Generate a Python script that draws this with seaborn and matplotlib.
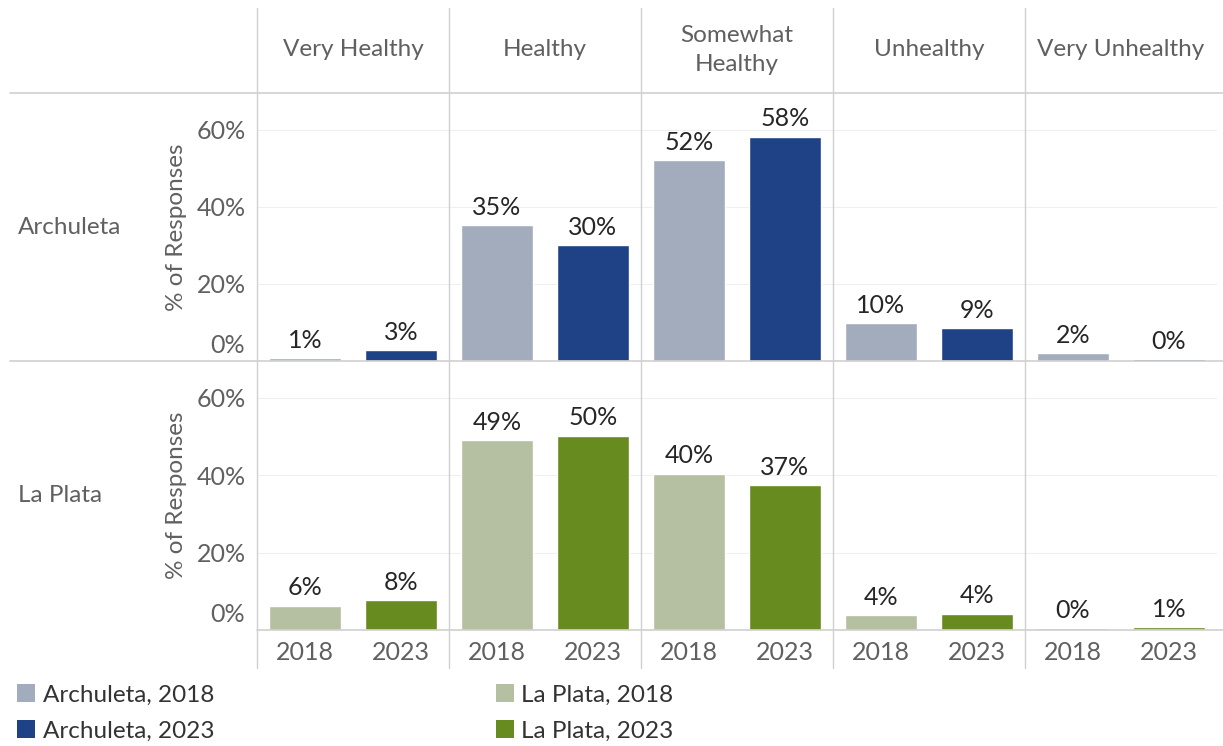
import pandas as pd
import matplotlib.pyplot as plt
import seaborn as sns
from matplotlib.lines import Line2D
from matplotlib.patches import Patch
from matplotlib.transforms import blended_transform_factory

# data
categories = ['Very Healthy', 'Healthy', 'Somewhat\nHealthy', 'Unhealthy', 'Very Unhealthy']
counties = ['Archuleta', 'La Plata']
years = ['2018', '2023']
archuleta_2018 = [0.7, 35.2, 52.1, 9.8, 2.0]
archuleta_2023 = [2.9, 30.0, 58.2, 8.6, 0.4]
laplata_2018 = [6.3, 49.0, 40.4, 3.9, 0.4]
laplata_2023 = [7.8, 50.2, 37.4, 4.2, 0.8]
y_ticks = [0, 20, 40, 60]

colors = {
    ('Archuleta', '2018'): '#a3acbc',
    ('Archuleta', '2023'): '#1f4287',
    ('La Plata', '2018'): '#b5bfa1',
    ('La Plata', '2023'): '#678b1f',
}

rows = []
for cat, a18, a23, l18, l23 in zip(categories, archuleta_2018, archuleta_2023, laplata_2018, laplata_2023):
    rows.append(('Archuleta', cat, '2018', a18))
    rows.append(('Archuleta', cat, '2023', a23))
    rows.append(('La Plata', cat, '2018', l18))
    rows.append(('La Plata', cat, '2023', l23))
df = pd.DataFrame(rows, columns=['county', 'category', 'year', 'pct'])

sns.set_style('white')
plt.rcParams['font.family'] = ['Lato', 'DejaVu Sans']

W, H = 1223, 746
fig = plt.figure(figsize=(W / 100, H / 100), dpi=100)

grey_txt = '#606060'
line_c = '#d0d0d0'
fs = 17.5
fs_num = 18

panel_left = 257
panel_w = 192
row_tops = [93, 361]
row_bottoms = [361, 630]


def fx(px):
    return px / W


def fy(py):
    return 1 - py / H


for r, county in enumerate(counties):
    for c, cat in enumerate(categories):
        left = panel_left + c * panel_w
        ax = fig.add_axes([fx(left), fy(row_bottoms[r]), panel_w / W,
                           (row_bottoms[r] - row_tops[r]) / H])
        sub = df[(df.county == county) & (df.category == cat)]
        pal = {y: colors[(county, y)] for y in years}
        sns.barplot(data=sub, x='year', y='pct', hue='year', order=years,
                    hue_order=years, palette=pal, width=0.76, ax=ax,
                    legend=False, saturation=1, errorbar=None)
        for cont in ax.containers:
            vals = [f'{v:.0f}%' for v in cont.datavalues]
            ax.bar_label(cont, labels=vals, padding=4.5, fontsize=fs_num, color='#262626')
        ax.set_ylim(0, 69.5)
        ax.set_xlim(-0.5, 1.5)
        ax.set_yticks(y_ticks)
        ax.yaxis.grid(True, color='#efefef', linewidth=0.8)
        ax.set_axisbelow(True)
        ax.set_xlabel('')
        ax.set_ylabel('')
        for s in ['top', 'right', 'left', 'bottom']:
            ax.spines[s].set_visible(False)
        ax.tick_params(length=0)
        if c == 0:
            ax.set_yticklabels(['', '20%', '40%', '60%'], fontsize=fs_num, color=grey_txt)
            ax.tick_params(axis='y', pad=8)
            tr = blended_transform_factory(ax.transAxes, ax.transData)
            ax.text(-0.062, 3.9, '0%', transform=tr, ha='right', va='center',
                    fontsize=fs_num, color=grey_txt)
        else:
            ax.set_yticklabels([])
        if r == 1:
            ax.set_xticks([0, 1])
            ax.set_xticklabels(years, fontsize=fs_num, color=grey_txt)
            ax.tick_params(axis='x', pad=8)
        else:
            ax.set_xticklabels([])
        if r == 0:
            fig.text(fx(left + panel_w / 2), fy(50), cat, ha='center', va='center',
                     fontsize=fs, color=grey_txt, linespacing=1.5)

    mid = (row_tops[r] + row_bottoms[r]) / 2
    fig.text(fx(18), fy(mid), county, ha='left', va='center', fontsize=fs, color=grey_txt)
    fig.text(fx(176), fy(mid), '% of Responses', ha='center', va='center',
             rotation=90, fontsize=fs, color=grey_txt)

# grid separators
for c in range(5):
    x = fx(panel_left + c * panel_w)
    fig.add_artist(Line2D([x, x], [fy(8), fy(668)], color=line_c, linewidth=1))
for py, x0 in [(93, 10), (361, 10), (630, 257)]:
    fig.add_artist(Line2D([fx(x0), 1], [fy(py), fy(py)], color=line_c, linewidth=1.2))

handles = [Patch(facecolor=colors[(co, y)], edgecolor='none') for co in counties for y in years]
labels = [f'{co}, {y}' for co in counties for y in years]
fig.legend(handles, labels, ncol=2, loc='upper left', bbox_to_anchor=(fx(17), fy(684)),
           frameon=False, fontsize=fs, handlelength=0.75, handleheight=0.75,
           handletextpad=0.3, labelspacing=0.62, columnspacing=11.6, borderpad=0,
           borderaxespad=0, labelcolor='#333333')

plt.savefig('out.png', dpi=100)
plt.close()
